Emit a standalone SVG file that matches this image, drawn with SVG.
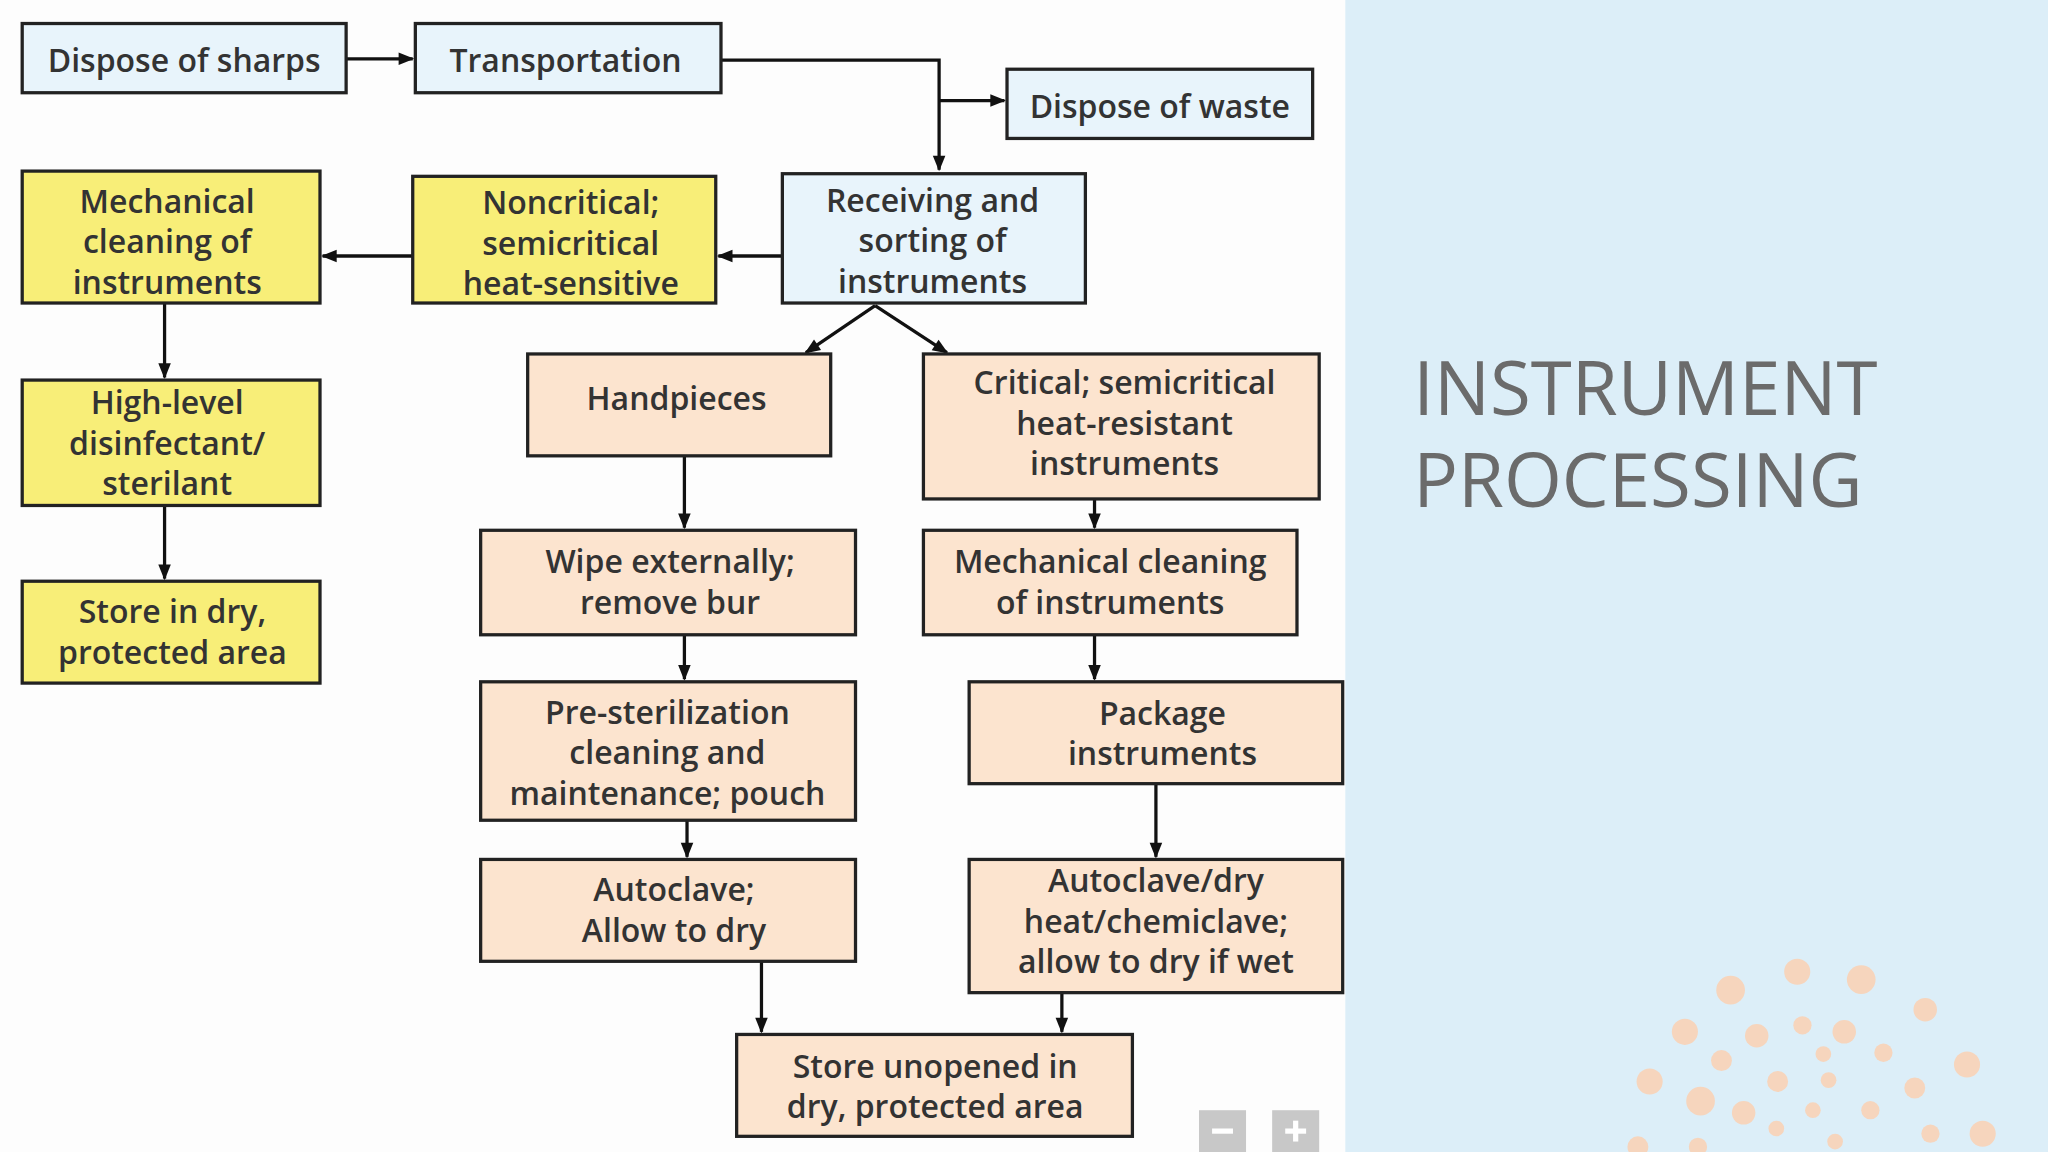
<svg xmlns="http://www.w3.org/2000/svg" width="2048" height="1152" viewBox="0 0 2048 1152">
<defs>
<marker id="a" viewBox="0 0 10 10" refX="9" refY="5" markerWidth="14" markerHeight="12" orient="auto" markerUnits="userSpaceOnUse"><path d="M0,1 L10,5 L0,9 z" fill="#111"/></marker>
</defs>
<style>
.b rect{stroke:#222;stroke-width:2.5}
.blue rect{fill:#e8f4fb}.yel rect{fill:#f8ee78}.pch rect{fill:#fce4cf}
.b text{font-family:"Open Sans","Liberation Sans",sans-serif;font-weight:600;font-size:24.5px;fill:#333;text-anchor:middle}
#connectors path{fill:none;stroke:#111;stroke-width:2.5;marker-end:url(#a)}
.dot{fill:#f6d5bd}
</style>
<rect width="2048" height="1152" fill="#fdfdfd"/>
<g transform="scale(1.30612)">
<rect x="1030" y="0" width="538" height="882" fill="#dceef8"/>
<text x="1082" y="318" font-family="Open Sans, Liberation Sans, sans-serif" font-size="57" fill="#6b6b6b">INSTRUMENT</text>
<text x="1082" y="388" font-family="Open Sans, Liberation Sans, sans-serif" font-size="57" fill="#6b6b6b">PROCESSING</text>
<g id="dots">
<circle class="dot" cx="1376" cy="744" r="10"/><circle class="dot" cx="1425" cy="750" r="11"/><circle class="dot" cx="1325" cy="758" r="11"/><circle class="dot" cx="1474" cy="773" r="9"/>
<circle class="dot" cx="1290" cy="790" r="10"/><circle class="dot" cx="1345" cy="793" r="9"/><circle class="dot" cx="1380" cy="785" r="7"/><circle class="dot" cx="1412" cy="790" r="9"/>
<circle class="dot" cx="1442" cy="806" r="7"/><circle class="dot" cx="1506" cy="815" r="10"/><circle class="dot" cx="1318" cy="812" r="8"/><circle class="dot" cx="1396" cy="807" r="6"/>
<circle class="dot" cx="1263" cy="828" r="10"/><circle class="dot" cx="1361" cy="828" r="8"/><circle class="dot" cx="1400" cy="827" r="6"/><circle class="dot" cx="1466" cy="833" r="8"/>
<circle class="dot" cx="1302" cy="843" r="11"/><circle class="dot" cx="1335" cy="852" r="9"/><circle class="dot" cx="1388" cy="850" r="6"/><circle class="dot" cx="1432" cy="850" r="7"/>
<circle class="dot" cx="1518" cy="868" r="10"/><circle class="dot" cx="1360" cy="864" r="6"/><circle class="dot" cx="1478" cy="868" r="7"/><circle class="dot" cx="1405" cy="874" r="6"/>
<circle class="dot" cx="1254" cy="878" r="8"/><circle class="dot" cx="1300" cy="878" r="7"/>
</g>
<g id="zoom"><rect x="918" y="850" width="36" height="32" fill="#c8c8c8"/><rect x="928" y="864" width="16" height="4" fill="#fff"/>
<rect x="974" y="850" width="36" height="32" fill="#c8c8c8"/><rect x="984" y="864" width="16" height="4" fill="#fff"/><rect x="990" y="858" width="4" height="16" fill="#fff"/></g>

<g id="connectors">
<path d="M265,45 H316"/>
<path d="M552,46 H719 V130"/>
<path d="M719,77 H769"/>
<path d="M599,196 H550"/>
<path d="M316,196 H247"/>
<path d="M126,232 V289"/>
<path d="M126,387 V443"/>
<path d="M670,234 L617,270"/>
<path d="M670,234 L725,270"/>
<path d="M524,349 V404"/>
<path d="M524,486 V520"/>
<path d="M526,628 V656"/>
<path d="M583,736 V790"/>
<path d="M838,382 V404"/>
<path d="M838,486 V520"/>
<path d="M885,600 V656"/>
<path d="M813,760 V790"/>
</g>

<g id="n1" class="b blue"><rect x="17" y="18" width="248" height="53"/><text x="141" y="55">Dispose of sharps</text></g>
<g id="n2" class="b blue"><rect x="318" y="18" width="234" height="53"/><text x="433" y="55">Transportation</text></g>
<g id="n3" class="b blue"><rect x="771" y="53" width="234" height="53"/><text x="888" y="90">Dispose of waste</text></g>
<g id="n4" class="b blue"><rect x="599" y="133" width="232" height="99"/><text x="714" y="162">Receiving and</text><text x="714" y="193">sorting of</text><text x="714" y="224">instruments</text></g>
<g id="n5" class="b yel"><rect x="316" y="135" width="232" height="97"/><text x="437" y="164">Noncritical;</text><text x="437" y="195">semicritical</text><text x="437" y="226">heat-sensitive</text></g>
<g id="n6" class="b yel"><rect x="17" y="131" width="228" height="101"/><text x="128" y="163">Mechanical</text><text x="128" y="194">cleaning of</text><text x="128" y="225">instruments</text></g>
<g id="n7" class="b yel"><rect x="17" y="291" width="228" height="96"/><text x="128" y="317">High-level</text><text x="128" y="348">disinfectant/</text><text x="128" y="379">sterilant</text></g>
<g id="n8" class="b yel"><rect x="17" y="445" width="228" height="78"/><text x="132" y="477">Store in dry,</text><text x="132" y="508">protected area</text></g>
<g id="n9" class="b pch"><rect x="404" y="271" width="232" height="78"/><text x="518" y="314">Handpieces</text></g>
<g id="n10" class="b pch"><rect x="707" y="271" width="303" height="111"/><text x="861" y="302">Critical; semicritical</text><text x="861" y="333">heat-resistant</text><text x="861" y="364">instruments</text></g>
<g id="n11" class="b pch"><rect x="368" y="406" width="287" height="80"/><text x="513" y="439">Wipe externally;</text><text x="513" y="470">remove bur</text></g>
<g id="n12" class="b pch"><rect x="707" y="406" width="286" height="80"/><text x="850" y="439">Mechanical cleaning</text><text x="850" y="470">of instruments</text></g>
<g id="n13" class="b pch"><rect x="368" y="522" width="287" height="106"/><text x="511" y="554">Pre-sterilization</text><text x="511" y="585">cleaning and</text><text x="511" y="616">maintenance; pouch</text></g>
<g id="n14" class="b pch"><rect x="742" y="522" width="286" height="78"/><text x="890" y="555">Package</text><text x="890" y="586">instruments</text></g>
<g id="n15" class="b pch"><rect x="368" y="658" width="287" height="78"/><text x="516" y="690">Autoclave;</text><text x="516" y="721">Allow to dry</text></g>
<g id="n16" class="b pch"><rect x="742" y="658" width="286" height="102"/><text x="885" y="683">Autoclave/dry</text><text x="885" y="714">heat/chemiclave;</text><text x="885" y="745">allow to dry if wet</text></g>
<g id="n17" class="b pch"><rect x="564" y="792" width="303" height="78"/><text x="716" y="825">Store unopened in</text><text x="716" y="856">dry, protected area</text></g>
</g>
</svg>
